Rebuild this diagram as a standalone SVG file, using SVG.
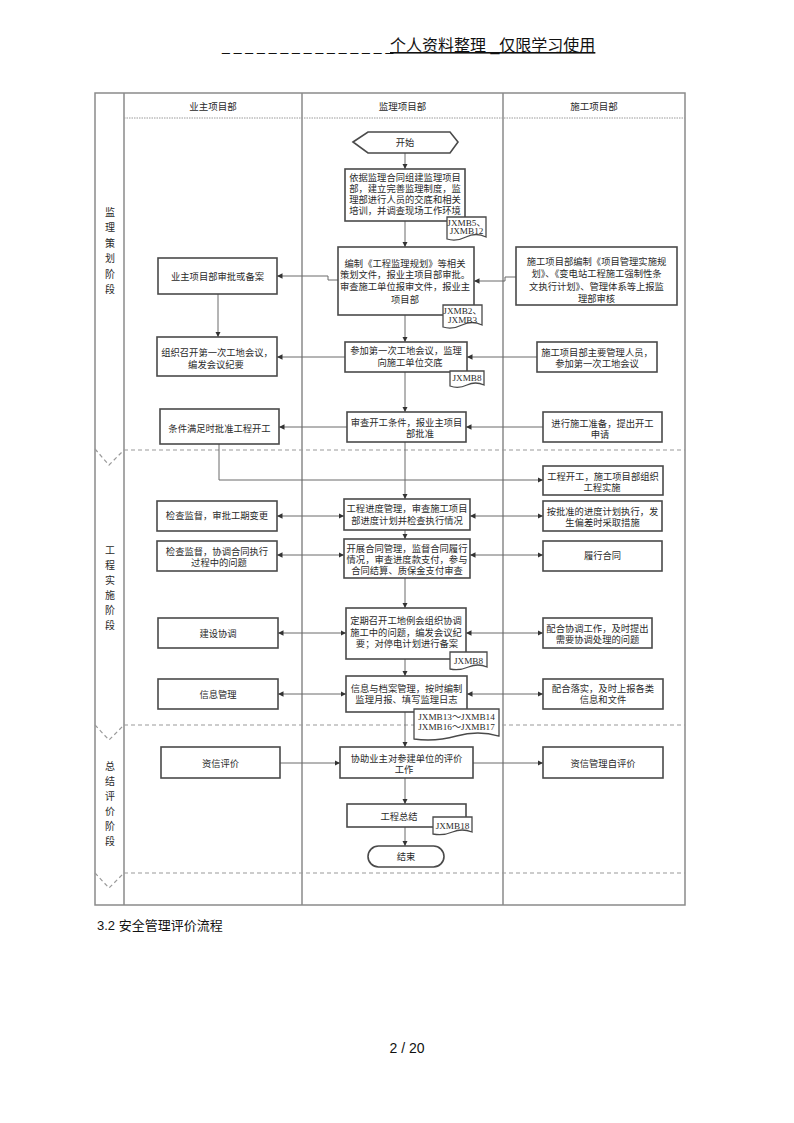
<svg xmlns="http://www.w3.org/2000/svg" width="794" height="1123" viewBox="0 0 794 1123">
<defs>
<marker id="ah" viewBox="0 0 6 6" refX="6" refY="3" markerWidth="5.5" markerHeight="5.5" markerUnits="userSpaceOnUse" orient="auto-start-reverse"><path d="M0,0 L6,3 L0,6 z" fill="#333"/></marker>
<style>
.bg{fill:#fff}
.frame{stroke:#8a8a8a;stroke-width:1.5;fill:none}
.dash{stroke:#9a9a9a;stroke-width:1.2;stroke-dasharray:4 3;fill:none}
.dot{stroke:#9a9a9a;stroke-width:1;stroke-dasharray:1.5 1;fill:none}
.box{fill:#fff;stroke:#4a4a4a;stroke-width:1.6}
.tag{fill:#fff;stroke:#4a4a4a;stroke-width:1.3}
.t{font-family:"Noto Sans CJK SC",sans-serif;font-size:9.3px;fill:#2a2a2a;text-anchor:middle}
.h{font-family:"Noto Sans CJK SC",sans-serif;font-size:9.5px;fill:#2a2a2a;text-anchor:middle}
.s{font-family:"Noto Sans CJK SC",sans-serif;font-size:10px;fill:#2a2a2a;text-anchor:middle}
.tg{font-family:"Liberation Serif","Noto Sans CJK SC",serif;font-size:9.2px;fill:#2a2a2a;text-anchor:middle}
.c{stroke:#6a6a6a;stroke-width:1;fill:none}
.cs{stroke:#6a6a6a;stroke-width:1;fill:none;marker-end:url(#ah)}
.cd{stroke:#6a6a6a;stroke-width:1;fill:none;marker-start:url(#ah);marker-end:url(#ah)}
</style>
</defs>
<rect class="bg" x="0" y="0" width="794" height="1123"/>

<g id="page-header">
<text x="222" y="51" font-family="Liberation Sans,sans-serif" font-size="14" fill="#111">_ _ _ _ _ _ _ _ _ _ _ _ _ _ _</text>
<text x="390" y="51" font-family="Liberation Sans,'Noto Sans CJK SC',sans-serif" font-size="16" fill="#111" text-decoration="underline">个人资料整理 _仅限学习使用</text>
</g>

<g id="frame">
<rect class="frame" x="95" y="93" width="590" height="812"/>
<line class="frame" x1="124" y1="93" x2="124" y2="905"/>
<line class="frame" x1="302" y1="93" x2="302" y2="905"/>
<line class="frame" x1="503" y1="93" x2="503" y2="905"/>
<line class="dot" x1="124" y1="118" x2="685" y2="118"/>
<line class="dash" x1="124" y1="450" x2="685" y2="450"/>
<line class="dash" x1="124" y1="725" x2="685" y2="725"/>
<line class="dash" x1="124" y1="873" x2="685" y2="873"/>
<path class="dash" d="M95,449 L109,465 L124,450"/>
<path class="dash" d="M95,725 L109,740 L124,725"/>
<path class="dash" d="M95,873 L109,888 L124,873"/>
</g>

<g id="lane-headers">
<text class="h" x="213" y="109.5">业主项目部</text>
<text class="h" x="402.5" y="109.5">监理项目部</text>
<text class="h" x="594" y="109.5">施工项目部</text>
</g>

<g id="stage-labels">
<text class="s" x="110" y="215.5">监</text>
<text class="s" x="110" y="231">理</text>
<text class="s" x="110" y="246.5">策</text>
<text class="s" x="110" y="262">划</text>
<text class="s" x="110" y="277.5">阶</text>
<text class="s" x="110" y="293">段</text>
<text class="s" x="110" y="553.5">工</text>
<text class="s" x="110" y="568.5">程</text>
<text class="s" x="110" y="583.5">实</text>
<text class="s" x="110" y="598.5">施</text>
<text class="s" x="110" y="613.5">阶</text>
<text class="s" x="110" y="628.5">段</text>
<text class="s" x="110" y="769.5">总</text>
<text class="s" x="110" y="784.5">结</text>
<text class="s" x="110" y="799.5">评</text>
<text class="s" x="110" y="814.5">价</text>
<text class="s" x="110" y="829.5">阶</text>
<text class="s" x="110" y="844.5">段</text>
</g>

<g id="connectors">
<path class="cs" d="M405,153 V169"/>
<path class="cs" d="M405,221 V247"/>
<path class="cs" d="M405,315 V342"/>
<path class="cs" d="M405,372 V412"/>
<path class="cs" d="M405,442 V499"/>
<path class="cs" d="M405,530 V539"/>
<path class="cs" d="M405,578 V608"/>
<path class="cs" d="M405,659 V676"/>
<path class="cs" d="M405,712 V747"/>
<path class="cs" d="M405,778 V804"/>
<path class="cs" d="M405,827 V846"/>
<path class="cs" d="M338,280 H328 V276 H277"/>
<path class="cs" d="M516,277 H505 V281 H474"/>
<path class="cs" d="M218,294 V337"/>
<path class="cs" d="M345,357 H277"/>
<path class="cs" d="M537,357 H467"/>
<path class="cs" d="M347,427 H279"/>
<path class="cs" d="M543,427 H466"/>
<path class="cs" d="M219,444 V480 H543"/>
<path class="cd" d="M277,516 H344"/>
<path class="cd" d="M470,516 H543"/>
<path class="cd" d="M277,555 H344"/>
<path class="cd" d="M470,555 H543"/>
<path class="cd" d="M278,633 H346"/>
<path class="cd" d="M466,633 H543"/>
<path class="cd" d="M278,694 H346"/>
<path class="cd" d="M467,694 H543"/>
<path class="cs" d="M280,763 H340"/>
<path class="cs" d="M473,763 H543"/>
</g>

<g id="start">
<path class="box" d="M353,142 L368,132 L450,132 L458,142 L450,153 L368,153 Z"/>
<text class="t" x="405" y="145.5">开始</text>
</g>

<g id="s1">
<rect class="box" x="345" y="169" width="120" height="52"/>
<text class="t" x="405" y="180.5">依据监理合同组建监理项目</text>
<text class="t" x="405" y="191.5">部，建立完善监理制度，监</text>
<text class="t" x="405" y="202.5">理部进行人员的交底和相关</text>
<text class="t" x="405" y="214">培训，并调查现场工作环境</text>
</g>
<g id="tag1">
<path class="tag" d="M447,217 H486 V237 Q476,232 466,237 T447,239 Z"/>
<text class="tg" x="466.5" y="225.5">JXMB5、</text>
<text class="tg" x="466.5" y="234">JXMB12</text>
</g>

<g id="s2">
<rect class="box" x="338" y="247" width="136" height="68"/>
<text class="t" x="405" y="266.5">编制《工程监理规划》等相关</text>
<text class="t" x="405" y="277.5">策划文件，报业主项目部审批。</text>
<text class="t" x="405" y="290">审查施工单位报审文件，报业主</text>
<text class="t" x="405" y="303">项目部</text>
</g>
<g id="tag2">
<path class="tag" d="M443,305 H482 V325 Q472,320 462,325 T443,327 Z"/>
<text class="tg" x="462.5" y="314">JXMB2、</text>
<text class="tg" x="462.5" y="322.5">JXMB3</text>
</g>

<g id="s3">
<rect class="box" x="345" y="342" width="122" height="30"/>
<text class="t" x="406" y="353.5">参加第一次工地会议，监理</text>
<text class="t" x="410" y="366">向施工单位交底</text>
</g>
<g id="tag3">
<path class="tag" d="M450,371 H484 V385 Q475.5,381 467,385 T450,386 Z"/>
<text class="tg" x="467" y="381">JXMB8</text>
</g>

<g id="s4">
<rect class="box" x="347" y="412" width="119" height="30"/>
<text class="t" x="406.5" y="425.5">审查开工条件，报业主项目</text>
<text class="t" x="420" y="436.5">部批准</text>
</g>

<g id="s5">
<rect class="box" x="344" y="499" width="126" height="31"/>
<text class="t" x="407" y="511.5">工程进度管理，审查施工项目</text>
<text class="t" x="407" y="523.5">部进度计划并检查执行情况</text>
</g>

<g id="s6">
<rect class="box" x="344" y="539" width="126" height="39"/>
<text class="t" x="407" y="551.5">开展合同管理，监督合同履行</text>
<text class="t" x="407" y="562.5">情况，审查进度款支付，参与</text>
<text class="t" x="407" y="573.5">合同结算、质保金支付审查</text>
</g>

<g id="s7">
<rect class="box" x="346" y="608" width="120" height="51"/>
<text class="t" x="406" y="623.5">定期召开工地例会组织协调</text>
<text class="t" x="406" y="635.5">施工中的问题，编发会议纪</text>
<text class="t" x="407" y="646.5">要；对停电计划进行备案</text>
</g>
<g id="tag4">
<path class="tag" d="M450,652 H487 V667 Q478,663 468.5,667 T450,669 Z"/>
<text class="tg" x="468.5" y="664">JXMB8</text>
</g>

<g id="s8">
<rect class="box" x="346" y="676" width="121" height="36"/>
<text class="t" x="406.5" y="691.5">信息与档案管理，按时编制</text>
<text class="t" x="406.5" y="702.5">监理月报、填写监理日志</text>
</g>
<g id="tag5">
<path class="tag" d="M414,709 H499 V736 Q478,730 456.5,736 T414,739 Z"/>
<text class="tg" x="456.5" y="720">JXMB13～JXMB14</text>
<text class="tg" x="456.5" y="729.5">JXMB16～JXMB17</text>
</g>

<g id="s9">
<rect class="box" x="340" y="747" width="133" height="31"/>
<text class="t" x="406.5" y="761.5">协助业主对参建单位的评价</text>
<text class="t" x="404" y="772.5">工作</text>
</g>

<g id="s10">
<rect class="box" x="347" y="804" width="119" height="23"/>
<text class="t" x="399" y="819.5">工程总结</text>
</g>
<g id="tag6">
<path class="tag" d="M433,817 H472 V832 Q462,828 452.5,832 T433,834 Z"/>
<text class="tg" x="452.5" y="829">JXMB18</text>
</g>

<g id="end">
<rect class="box" x="368" y="846" width="76" height="21" rx="10.5"/>
<text class="t" x="406" y="860">结束</text>
</g>

<g id="o1"><rect class="box" x="158" y="258" width="119" height="36"/><text class="t" x="217.5" y="279.5">业主项目部审批或备案</text></g>
<g id="o2"><rect class="box" x="157" y="337" width="120" height="39"/><text class="t" x="217" y="356">组织召开第一次工地会议，</text><text class="t" x="216" y="367.5">编发会议纪要</text></g>
<g id="o3"><rect class="box" x="160" y="409" width="119" height="35"/><text class="t" x="219.5" y="432">条件满足时批准工程开工</text></g>
<g id="o4"><rect class="box" x="157" y="501" width="120" height="30"/><text class="t" x="217" y="519">检查监督，审批工期变更</text></g>
<g id="o5"><rect class="box" x="157" y="541" width="120" height="30"/><text class="t" x="217" y="555">检查监督，协调合同执行</text><text class="t" x="219" y="565.5">过程中的问题</text></g>
<g id="o6"><rect class="box" x="158" y="618" width="120" height="30"/><text class="t" x="218" y="636.5">建设协调</text></g>
<g id="o7"><rect class="box" x="158" y="679" width="120" height="30"/><text class="t" x="218" y="697.5">信息管理</text></g>
<g id="o8"><rect class="box" x="161" y="747" width="119" height="31"/><text class="t" x="220.5" y="767">资信评价</text></g>

<g id="c1"><rect class="box" x="516" y="247" width="161" height="58"/><text class="t" x="596.5" y="264.5">施工项目部编制《项目管理实施规</text><text class="t" x="596.5" y="276.5">划》、《变电站工程施工强制性条</text><text class="t" x="596.5" y="289.5">文执行计划》、管理体系等上报监</text><text class="t" x="596.5" y="302">理部审核</text></g>
<g id="c2"><rect class="box" x="537" y="342" width="120" height="30"/><text class="t" x="597" y="355.5">施工项目部主要管理人员，</text><text class="t" x="597" y="366.5">参加第一次工地会议</text></g>
<g id="c3"><rect class="box" x="543" y="412" width="119" height="30"/><text class="t" x="602.5" y="426.5">进行施工准备，提出开工</text><text class="t" x="600" y="437.5">申请</text></g>
<g id="c4"><rect class="box" x="543" y="466" width="120" height="29"/><text class="t" x="603" y="479.5">工程开工，施工项目部组织</text><text class="t" x="602" y="491">工程实施</text></g>
<g id="c5"><rect class="box" x="543" y="501" width="119" height="30"/><text class="t" x="602.5" y="514.5">按批准的进度计划执行，发</text><text class="t" x="602.5" y="525.5">生偏差时采取措施</text></g>
<g id="c6"><rect class="box" x="543" y="541" width="119" height="30"/><text class="t" x="602.5" y="559">履行合同</text></g>
<g id="c7"><rect class="box" x="543" y="618" width="109" height="30"/><text class="t" x="597.5" y="631.5">配合协调工作，及时提出</text><text class="t" x="597.5" y="642.5">需要协调处理的问题</text></g>
<g id="c8"><rect class="box" x="543" y="679" width="120" height="30"/><text class="t" x="603" y="691.5">配合落实，及时上报各类</text><text class="t" x="603" y="702.5">信息和文件</text></g>
<g id="c9"><rect class="box" x="543" y="747" width="120" height="31"/><text class="t" x="603" y="767">资信管理自评价</text></g>

<g id="page-footer">
<text x="97" y="930" font-family="Liberation Sans,'Noto Sans CJK SC',sans-serif" font-size="13" fill="#111">3.2 安全管理评价流程</text>
<text x="407" y="1053" font-family="Liberation Sans,sans-serif" font-size="14" fill="#111" text-anchor="middle">2 / 20</text>
</g>
</svg>
